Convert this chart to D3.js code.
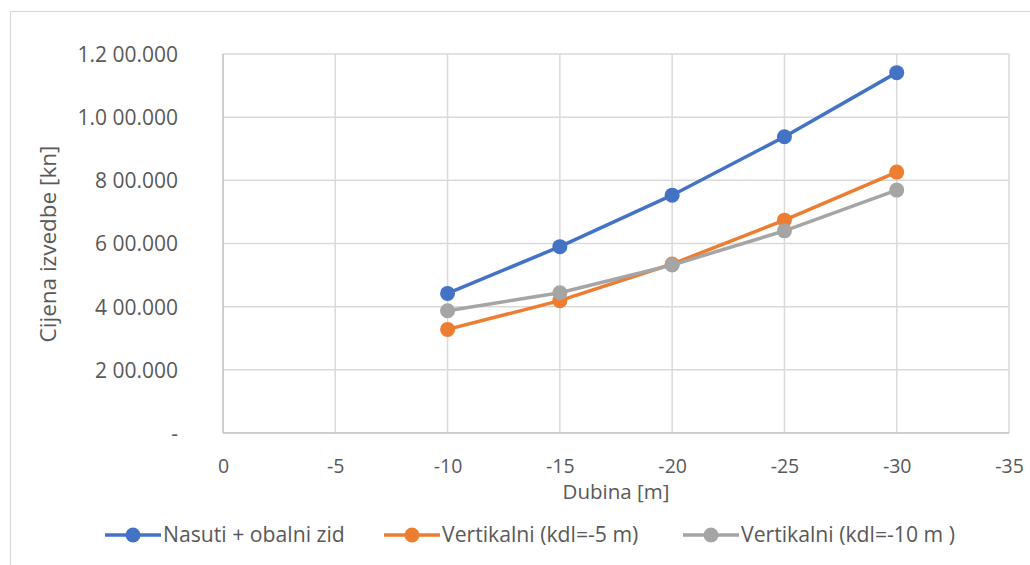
<!DOCTYPE html>
<html><head><meta charset="utf-8">
<script src="https://cdn.jsdelivr.net/npm/d3@7"></script>
<style>body{margin:0;background:#fff}svg{display:block}</style>
</head><body>
<script>
const depths = [-10, -15, -20, -25, -30];
const seriesNames = ["Nasuti + obalni zid", "Vertikalni (kdl=-5 m)", "Vertikalni (kdl=-10 m )"];
const nasuti = [442000, 590000, 753000, 938000, 1141000];
const vert5 = [328000, 419000, 535000, 674000, 826000];
const vert10 = [387000, 444000, 532000, 640000, 769000];
const xTicks = [0, -5, -10, -15, -20, -25, -30, -35];
const yTicks = [0, 200000, 400000, 600000, 800000, 1000000, 1200000];
const yTickLabels = ["-", "2 00.000", "4 00.000", "6 00.000", "8 00.000", "1.0 00.000", "1.2 00.000"];
const colors = ["#4472c4", "#ed7d31", "#a5a5a5"];

const W = 1030, H = 565;
const svg = d3.select("body").append("svg").attr("width", W).attr("height", H);
const font = "'Open Sans', sans-serif";
const txt = "#595959";

// outer chart border
svg.append("rect").attr("x", 10.5).attr("y", 11.5).attr("width", 1040).attr("height", 600)
  .attr("fill", "none").attr("stroke", "#d9d9d9").attr("stroke-width", 1.2);

const x = d3.scaleLinear().domain([0, -35]).range([223, 1009]);
const y = d3.scaleLinear().domain([0, 1200000]).range([433, 54]);

// gridlines
const g = svg.append("g");
g.selectAll("line.v").data(xTicks.slice(1)).join("line")
  .attr("x1", d => x(d)).attr("x2", d => x(d)).attr("y1", y(0)).attr("y2", y(1200000))
  .attr("stroke", "#d9d9d9").attr("stroke-width", 1.5);
g.selectAll("line.h").data(yTicks.slice(1)).join("line")
  .attr("x1", x(0)).attr("x2", x(-35)).attr("y1", d => y(d)).attr("y2", d => y(d))
  .attr("stroke", "#d9d9d9").attr("stroke-width", 1.5);
// axis lines
g.append("line").attr("x1", x(0)).attr("x2", x(0)).attr("y1", y(0)).attr("y2", y(1200000))
  .attr("stroke", "#bfbfbf").attr("stroke-width", 1.5);
g.append("line").attr("x1", x(0)).attr("x2", x(-35)).attr("y1", y(0)).attr("y2", y(0))
  .attr("stroke", "#bfbfbf").attr("stroke-width", 1.5);

// axes labels via d3 axes
const xAxis = d3.axisBottom(x).tickValues(xTicks).tickSize(0).tickPadding(0).tickFormat(d => String(d));
const xa = svg.append("g").attr("transform", `translate(0,${y(0)})`).call(xAxis);
xa.select(".domain").remove();
xa.selectAll("text").attr("dy", null).attr("y", 40).attr("fill", txt).attr("font-family", font).attr("font-size", 19.5);

const yAxis = d3.axisLeft(y).tickValues(yTicks).tickSize(0).tickPadding(0).tickFormat((d, i) => yTickLabels[i]);
const ya = svg.append("g").attr("transform", `translate(178,0)`).call(yAxis);
ya.select(".domain").remove();
ya.selectAll("text").attr("fill", txt).attr("font-family", font).attr("font-size", 21).attr("dy", "0.35em");

// axis titles
svg.append("text").attr("x", 616).attr("y", 499).attr("text-anchor", "middle")
  .attr("fill", txt).attr("font-family", font).attr("font-size", 20.5).text("Dubina [m]");
svg.append("text").attr("transform", "translate(56,244) rotate(-90)").attr("text-anchor", "middle")
  .attr("fill", txt).attr("font-family", font).attr("font-size", 22.5).text("Cijena izvedbe [kn]");

// series
const data = [nasuti, vert5, vert10];
const line = d3.line().x((d, i) => x(depths[i])).y(d => y(d));
data.forEach((s, k) => {
  svg.append("path").datum(s).attr("d", line).attr("fill", "none")
    .attr("stroke", colors[k]).attr("stroke-width", 3.5).attr("stroke-linejoin", "round");
  svg.selectAll(null).data(s).join("circle")
    .attr("cx", (d, i) => x(depths[i])).attr("cy", d => y(d)).attr("r", 7.5).attr("fill", colors[k]);
});

// legend
const legX = [105, 384, 683];
const ly = 535;
seriesNames.forEach((n, k) => {
  const lg = svg.append("g");
  lg.append("line").attr("x1", legX[k]).attr("x2", legX[k] + 56).attr("y1", ly).attr("y2", ly)
    .attr("stroke", colors[k]).attr("stroke-width", 3.5);
  lg.append("circle").attr("cx", legX[k] + 28).attr("cy", ly).attr("r", 7.5).attr("fill", colors[k]);
  lg.append("text").attr("x", legX[k] + 58).attr("y", ly).attr("dy", "0.35em")
    .attr("fill", txt).attr("font-family", font).attr("font-size", 21.2).text(n);
});
</script>
</body></html>
